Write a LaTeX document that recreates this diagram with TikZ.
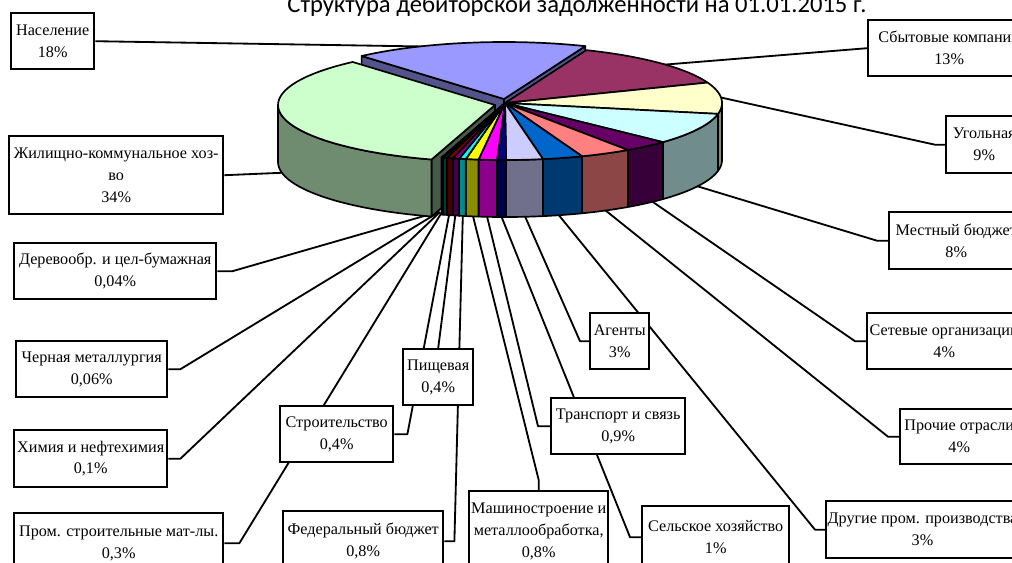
\documentclass[tikz,border=0pt]{standalone}
\usepackage{fontspec}
\setmainfont{Liberation Serif}
\newfontfamily\titlefont{Carlito}
\usetikzlibrary{positioning}

\pgfdeclarelayer{back}
\pgfsetlayers{back,main}

% slice colours (top faces)
\definecolor{cNas}{HTML}{9999FF}
\definecolor{cSbyt}{HTML}{993366}
\definecolor{cUgol}{HTML}{FFFFCC}
\definecolor{cMest}{HTML}{CCFFFF}
\definecolor{cSet}{HTML}{660066}
\definecolor{cProch}{HTML}{FF8080}
\definecolor{cDrug}{HTML}{0066CC}
\definecolor{cAgent}{HTML}{CCCCFF}
\definecolor{cSelsk}{HTML}{000080}
\definecolor{cTrans}{HTML}{FF00FF}
\definecolor{cMash}{HTML}{FFFF00}
\definecolor{cFed}{HTML}{00FFFF}
\definecolor{cPish}{HTML}{800080}
\definecolor{cStroi}{HTML}{800000}
\definecolor{cProm}{HTML}{008080}
\definecolor{cKhim}{HTML}{0000FF}
\definecolor{cCher}{HTML}{00CCFF}
\definecolor{cDerev}{HTML}{CCFFFF}
\definecolor{cZhkh}{HTML}{CCFFCC}

% pie pieces: #1,#2 angles, #3 colour, #4,#5 explode shift
\newcommand{\slicetop}[5]{%
  \filldraw[pieline, fill=#3] ({505+(#4)},{103+(#5)})
    -- plot[domain=#1:#2, samples=40] ({px(\x)+(#4)},{py(\x)+(#5)}) -- cycle;}
\newcommand{\sliceside}[5]{%
  \filldraw[pieline, fill=#3!55!black]
    plot[domain=#1:#2, samples=30] ({px(\x)+(#4)},{py(\x)+(#5)})
    -- plot[domain=#2:#1, samples=30] ({px(\x)+(#4)},{py(\x)+(#5)+57}) -- cycle;}
\newcommand{\sliceface}[4]{%
  \filldraw[pieline, fill=#2] ({505+(#3)},{103+(#4)}) -- ({px(#1)+(#3)},{py(#1)+(#4)})
    -- ({px(#1)+(#3)},{py(#1)+(#4)+57}) -- ({505+(#3)},{160+(#4)}) -- cycle;}

\begin{document}
\begin{tikzpicture}[
    x=0.025cm, y=-0.025cm,
    declare function={px(\a)=505+217*cos(\a); py(\a)=103-57*sin(\a);},
    pieline/.style={draw=black, line width=1.2pt, line join=round},
    lbl/.style={draw, line width=1.7pt, fill=white, align=center, anchor=north west,
        inner sep=1pt, font=\fontsize{11.5}{15.5}\selectfont},
    lblsize/.style 2 args={minimum width={#1*0.025cm}, minimum height={#2*0.025cm}},
    ldr/.style={line width=1.3pt, line join=round}
]
\useasboundingbox (0,0) rectangle (1012,562);
\clip (0,0) rectangle (1012,562);
\begin{pgfonlayer}{back}
\fill[white] (0,0) rectangle (1012,562);
\end{pgfonlayer}

% --- TITLE ---
\node[font=\titlefont\fontsize{17.5}{20}\selectfont, anchor=base] (title) at (577,12)
    {Структура дебиторской задолженности на 01.01.2015 г.};

% --- PIE ---
% Naselenie (exploded up)
\sliceface{131}{cNas!55!black}{-1}{-4}
\sliceface{68}{cNas!55!black}{-1}{-4}
\slicetop{68}{131}{cNas}{-1}{-4}

% ZhKH (exploded left)
\sliceface{-107}{cZhkh!35!black}{-10}{2}
\sliceside{-180}{-107}{cZhkh}{-10}{2}
\slicetop{131}{253}{cZhkh}{-10}{2}

% front walls
\sliceside{-11}{0}{cUgol}{0}{0}
\sliceside{-43.3}{-11}{cMest}{0}{0}
\sliceside{-55.5}{-43.3}{cSet}{0}{0}
\sliceside{-69.2}{-55.5}{cProch}{0}{0}
\sliceside{-79.9}{-69.2}{cDrug}{0}{0}
\sliceside{-89.7}{-79.9}{cAgent}{0}{0}
\sliceside{-92.1}{-89.7}{cSelsk}{0}{0}
\sliceside{-97}{-92.1}{cTrans}{0}{0}
\sliceside{-100.4}{-97}{cMash}{0}{0}
\sliceside{-102.2}{-100.4}{cFed}{0}{0}
\sliceside{-103.9}{-102.2}{cPish}{0}{0}
\sliceside{-105.6}{-103.9}{cStroi}{0}{0}
\sliceside{-106.5}{-105.6}{cProm}{0}{0}
\sliceside{-106.8}{-106.5}{cKhim}{0}{0}
\sliceside{-106.92}{-106.8}{cCher}{0}{0}
\sliceside{-107}{-106.92}{cDerev}{0}{0}

% tops
\slicetop{21}{68}{cSbyt}{0}{0}
\slicetop{-11}{21}{cUgol}{0}{0}
\slicetop{-43.3}{-11}{cMest}{0}{0}
\slicetop{-55.5}{-43.3}{cSet}{0}{0}
\slicetop{-69.2}{-55.5}{cProch}{0}{0}
\slicetop{-79.9}{-69.2}{cDrug}{0}{0}
\slicetop{-89.7}{-79.9}{cAgent}{0}{0}
\slicetop{-92.1}{-89.7}{cSelsk}{0}{0}
\slicetop{-97}{-92.1}{cTrans}{0}{0}
\slicetop{-100.4}{-97}{cMash}{0}{0}
\slicetop{-102.2}{-100.4}{cFed}{0}{0}
\slicetop{-103.9}{-102.2}{cPish}{0}{0}
\slicetop{-105.6}{-103.9}{cStroi}{0}{0}
\slicetop{-106.5}{-105.6}{cProm}{0}{0}
\slicetop{-106.8}{-106.5}{cKhim}{0}{0}
\slicetop{-106.92}{-106.8}{cCher}{0}{0}
\slicetop{-107}{-106.92}{cDerev}{0}{0}

% anchor points inside the slices
\coordinate (pNas) at (455,47);
\coordinate (pZhkh) at (300,172);
\coordinate (pSbyt) at (660,65);
\coordinate (pUgol) at (705,94);
\coordinate (pMest) at (690,184);
\coordinate (pSet) at (650,200);
\coordinate (pProch) at (600,206);
\coordinate (pDrug) at (553,208);
\coordinate (pAgent) at (520,205);
\coordinate (pSelsk) at (498,208);
\coordinate (pTrans) at (485,208);
\coordinate (pMash) at (471,208);
\coordinate (pFed) at (463,208);
\coordinate (pPish) at (456,210);
\coordinate (pStroi) at (450,210);
\coordinate (pProm) at (442,212);
\coordinate (pKhim) at (440,212);
\coordinate (pCher) at (439,212);
\coordinate (pDerev) at (438,212);

% --- LABELS ---
\node[lbl, lblsize={83}{56}] (nas) at (10,12) {Население\\18\%};
\node[lbl, lblsize={214}{78}] (zhkh) at (8,135) {Жилищно-коммунальное хоз-\\во\\34\%};
\node[lbl, lblsize={162}{56}] (sbyt) at (867,19) {Сбытовые компании\\13\%};
\node[lbl, lblsize={76}{57}] (ugol) at (945,115) {Угольная\\9\%};
\node[lbl, lblsize={134}{57}] (mest) at (888,211) {Местный бюджет\\8\%};
\node[lbl, lblsize={154}{56}] (set) at (866,312) {Сетевые организации\\4\%};
\node[lbl, lblsize={118}{55}] (proch) at (899,408) {Прочие отрасли\\4\%};
\node[lbl, lblsize={186}{57}] (drug) at (825,500) {Другие пром. производства\\3\%};
\node[lbl, lblsize={147}{62}] (selsk) at (641,505) {Сельское хозяйство\\1\%};
\node[lbl, lblsize={134}{56}] (trans) at (550,397) {Транспорт и связь\\0,9\%};
\node[lbl, lblsize={59}{56}] (agent) at (589,312) {Агенты\\3\%};
\node[lbl, lblsize={139}{80}] (mash) at (468,490) {Машиностроение и\\металлообработка,\\0,8\%};
\node[lbl, lblsize={160}{60}] (fed) at (282,510) {Федеральный бюджет\\0,8\%};
\node[lbl, lblsize={70}{56}] (pish) at (402,348) {Пищевая\\0,4\%};
\node[lbl, lblsize={113}{56}] (stroi) at (279,405) {Строительство\\0,4\%};
\node[lbl, lblsize={209}{60}] (prom) at (13,512) {Пром. строительные мат-лы.\\0,3\%};
\node[lbl, lblsize={153}{57}] (khim) at (13,429) {Химия и нефтехимия\\0,1\%};
\node[lbl, lblsize={151}{56}] (cher) at (15,340) {Черная металлургия\\0,06\%};
\node[lbl, lblsize={202}{56}] (derev) at (13,242) {Деревообр. и цел-бумажная\\0,04\%};

% --- LEADER LINES (behind pie and boxes) ---
\begin{pgfonlayer}{back}
\draw[ldr] (nas.east) -- (pNas);
\draw[ldr] (zhkh.east) -- (pZhkh);
\draw[ldr] (sbyt.west) -- (pSbyt);
\draw[ldr] (ugol.west) -- ++(-10,0) -- (pUgol);
\draw[ldr] (mest.west) -- ++(-11,0) -- (pMest);
\draw[ldr] (set.west) -- ++(-11,0) -- (pSet);
\draw[ldr] (proch.west) -- ++(-11,0) -- (pProch);
\draw[ldr] (drug.west) -- ++(-10,0) -- (pDrug);
\draw[ldr] (selsk.west) -- ++(-11,0) -- (pSelsk);
\draw[ldr] (trans.west) -- ++(-12,0) -- (pTrans);
\draw[ldr] (agent.west) -- ++(-9,0) -- (pAgent);
\draw[ldr] (mash.north) -- ++(0,-10) -- (pMash);
\draw[ldr] (fed.east) -- ++(10,0) -- (pFed);
\draw[ldr] (pish.north) -- (pPish);
\draw[ldr] (stroi.east) -- ++(13,0) -- (pStroi);
\draw[ldr] (prom.east) -- ++(15,0) -- (pProm);
\draw[ldr] (khim.east) -- ++(12,0) -- (pKhim);
\draw[ldr] (cher.east) -- ++(12,0) -- (pCher);
\draw[ldr] (derev.east) -- ++(15,0) -- (pDerev);
\end{pgfonlayer}

\end{tikzpicture}
\end{document}
